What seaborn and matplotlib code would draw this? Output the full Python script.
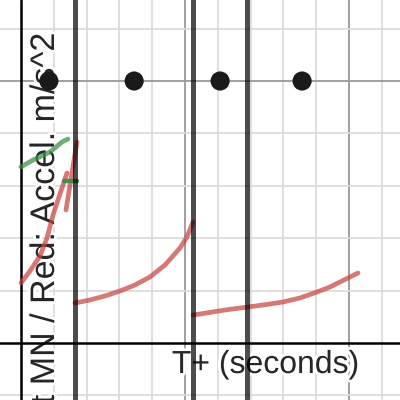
import matplotlib
matplotlib.use("Agg")
import matplotlib.pyplot as plt
import matplotlib.patheffects as pe
import seaborn as sns

# ---- data (grid units: 1 minor cell) ----
red1_x = [0.0, 0.274, 0.579, 0.793, 0.976, 1.128, 1.280, 1.402]
red1_y = [1.145, 1.374, 1.660, 2.004, 2.443, 2.729, 3.015, 3.244]

red2_x = [1.372, 1.494, 1.616, 1.707]
red2_y = [2.538, 3.015, 3.492, 3.836]

red3_x = [1.646, 2.104, 2.561, 3.018, 3.476, 3.933, 4.390, 4.848, 5.061, 5.244]
red3_y = [0.763, 0.821, 0.897, 0.992, 1.107, 1.260, 1.489, 1.813, 2.023, 2.309]

red4_x = [5.244, 5.457, 6.220, 6.921, 7.591, 7.988, 8.506, 9.024, 9.421, 9.726, 10.030, 10.274]
red4_y = [0.534, 0.553, 0.630, 0.687, 0.744, 0.782, 0.859, 0.973, 1.069, 1.164, 1.260, 1.336]

green1_x = [0.0, 0.366, 0.884, 1.250, 1.433]
green1_y = [3.36, 3.492, 3.645, 3.836, 3.893]

green2_x = [1.311, 1.707]
green2_y = [3.092, 3.092]

point_x = [0.85, 3.45, 6.07, 8.57]
point_y = [5.0, 5.0, 5.0, 5.0]

vline_x = [1.65, 5.24, 6.89]

x_label = "T+ (seconds)"
y_label = "Green: Thrust MN / Red: Accel. m/s^2"

# ---- figure ----
sns.set_style("white")
plt.rcParams['font.family'] = ['Liberation Sans', 'DejaVu Sans']

fig = plt.figure(figsize=(4, 4), dpi=100)
ax = fig.add_axes([0, 0, 1, 1])
ax.set_xlim(-0.640, 11.555)
ax.set_ylim(-1.088, 6.546)

for s in ax.spines.values():
    s.set_visible(False)
ax.set_xticks([5, 10])
ax.set_xticks([1, 2, 3, 4, 6, 7, 8, 9, 11], minor=True)
ax.set_yticks([5])
ax.set_yticks([-1, 1, 2, 3, 4, 6], minor=True)
ax.tick_params(which='both', length=0, labelbottom=False, labelleft=False)
ax.set_axisbelow(True)
ax.grid(which='major', color='#999999', linewidth=1.3)
ax.grid(which='minor', color='#dcdcdc', linewidth=1.3)

halo = [pe.withStroke(linewidth=4, foreground='white')]
ax.text(4.60, -0.573, x_label, fontsize=23, ha='left', va='baseline',
        zorder=1.5, path_effects=halo)
ax.text(1.006, 5.935, y_label, fontsize=24.5, rotation=90,
        rotation_mode='anchor', ha='right', va='baseline',
        zorder=1.5, path_effects=halo)

ax.axhline(0, color='black', linewidth=1.8, zorder=2)
ax.axvline(0, color='black', linewidth=1.8, zorder=2)

red = '#c74440'
for xs, ys in [(red1_x, red1_y), (red2_x, red2_y), (red3_x, red3_y), (red4_x, red4_y)]:
    sns.lineplot(x=xs, y=ys, ax=ax, color=red, alpha=0.72, linewidth=3.4,
                 sort=False, estimator=None, zorder=3,
                 solid_capstyle='round', solid_joinstyle='round')
sns.lineplot(x=green1_x, y=green1_y, ax=ax, color='#388c46', alpha=0.72,
             linewidth=3.4, sort=False, estimator=None, zorder=3,
             solid_capstyle='round', solid_joinstyle='round')
sns.lineplot(x=green2_x, y=green2_y, ax=ax, color='#388c46', alpha=0.9,
             linewidth=3.2, sort=False, estimator=None, zorder=3)

for xv in vline_x:
    ax.axvline(xv, color='black', alpha=0.7, linewidth=3.6, zorder=4)

sns.scatterplot(x=point_x, y=point_y, ax=ax, s=190, color='#1a1a1a',
                edgecolor='none', zorder=5)

ax.set_xlabel('')
ax.set_ylabel('')
fig.savefig('out.png', dpi=100)
